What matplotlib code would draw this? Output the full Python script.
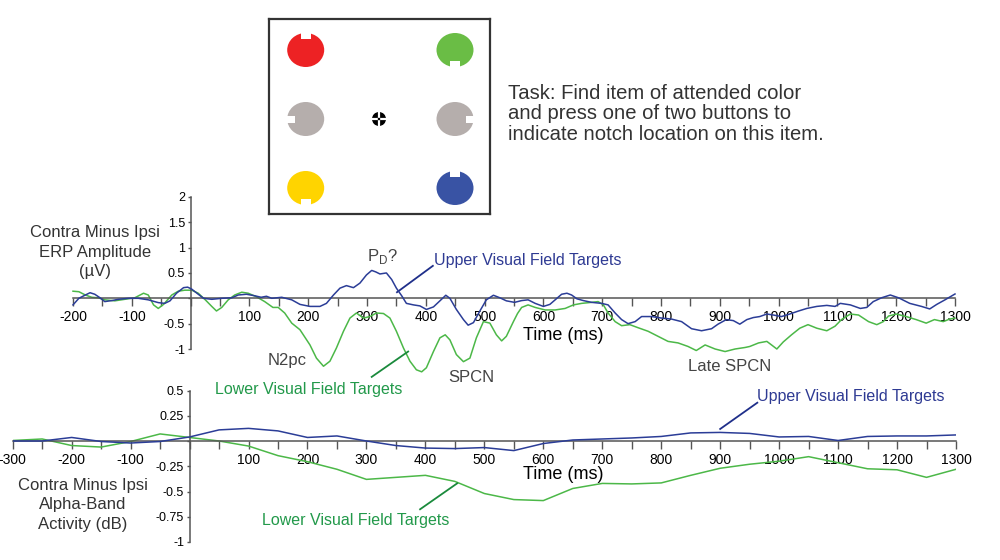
import matplotlib
matplotlib.use("Agg")
import matplotlib.pyplot as plt
from matplotlib.patches import Ellipse, Rectangle, Circle

plt.rcParams["font.family"] = ["Liberation Sans", "DejaVu Sans"]

# ---- top panel: contra minus ipsi ERP (uV) ----
erp_upper_t = [-200, -190, -179, -171, -163, -154, -146, -134, -123, -106, -89, -72, -55, -44, -35,
               -24, -12, -5, 2, 13, 22, 36, 53, 70, 81, 95, 109, 120, 129, 138, 155, 172, 186,
               203, 220, 231, 243, 254, 265, 277, 288, 299, 308, 315, 322, 333, 342, 350, 359,
               367, 379, 390, 401, 413, 424, 434, 441, 452, 464, 472, 481, 492, 503, 515, 526,
               537, 551, 563, 574, 586, 600, 611, 623, 631, 640, 648, 657, 668, 682, 699, 710,
               722, 733, 744, 756, 767, 784, 801, 818, 835, 852, 869, 886, 897, 911, 923, 934,
               946, 957, 968, 980, 991, 1005, 1019, 1034, 1048, 1065, 1082, 1096, 1105, 1122,
               1139, 1150, 1161, 1175, 1190, 1204, 1223, 1243, 1257, 1269, 1283, 1300]
erp_upper_v = [-0.13, 0.0, 0.065, 0.11, 0.08, 0.01, -0.065, -0.045, -0.02, 0.0, 0.0, -0.03, -0.085,
               -0.1, -0.05, 0.1, 0.21, 0.22, 0.18, 0.08, 0.0, -0.02, 0.0, 0.01, 0.065, 0.08, 0.05,
               0.02, 0.04, 0.0, 0.02, -0.03, -0.12, -0.16, -0.16, -0.1, 0.065, 0.2, 0.25, 0.21,
               0.3, 0.46, 0.55, 0.52, 0.48, 0.5, 0.37, 0.2, 0.05, -0.1, -0.13, -0.15, -0.22,
               -0.17, -0.05, 0.06, 0.0, -0.22, -0.42, -0.53, -0.48, -0.25, -0.03, 0.06, 0.01,
               -0.05, -0.08, -0.045, -0.03, -0.1, -0.16, -0.12, 0.0, 0.08, 0.1, 0.065, -0.01,
               -0.045, -0.08, -0.1, -0.13, -0.29, -0.42, -0.5, -0.46, -0.36, -0.36, -0.39, -0.41,
               -0.46, -0.6, -0.64, -0.6, -0.51, -0.42, -0.44, -0.51, -0.42, -0.38, -0.36, -0.31,
               -0.33, -0.36, -0.31, -0.25, -0.2, -0.16, -0.14, -0.16, -0.1, -0.13, -0.2, -0.18,
               -0.065, 0.01, 0.065, 0.01, -0.1, -0.16, -0.21, -0.12, -0.03, 0.085]

erp_lower_t = [-200, -190, -179, -168, -157, -146, -129, -112, -95, -80, -72, -63, -55, -46, -32,
               -21, -10, 2, 13, 25, 36, 44, 53, 64, 75, 87, 98, 112, 126, 140, 149, 160, 172,
               186, 203, 214, 226, 237, 248, 260, 271, 282, 294, 305, 316, 328, 339, 350, 362,
               373, 384, 393, 401, 413, 424, 433, 441, 452, 464, 475, 486, 498, 509, 520, 529,
               537, 549, 556, 563, 574, 586, 603, 620, 637, 651, 665, 682, 693, 702, 710, 722,
               733, 747, 761, 778, 795, 812, 829, 846, 860, 875, 892, 909, 926, 943, 951, 966,
               980, 988, 997, 1008, 1022, 1036, 1050, 1065, 1082, 1096, 1107, 1122, 1136, 1153,
               1167, 1178, 1187, 1200, 1217, 1234, 1251, 1265, 1280, 1291, 1300]
erp_lower_v = [0.14, 0.13, 0.065, 0.02, 0.01, -0.03, -0.05, -0.02, 0.01, 0.1, 0.065, -0.13, -0.2,
               -0.12, 0.065, 0.14, 0.16, 0.16, 0.1, -0.03, -0.16, -0.25, -0.18, -0.03, 0.065,
               0.12, 0.1, 0.03, -0.065, -0.18, -0.18, -0.29, -0.49, -0.62, -0.92, -1.18, -1.34,
               -1.24, -0.98, -0.65, -0.39, -0.29, -0.39, -0.36, -0.29, -0.3, -0.39, -0.65, -0.98,
               -1.24, -1.41, -1.45, -1.37, -1.05, -0.78, -0.72, -0.82, -1.11, -1.25, -1.18, -0.78,
               -0.46, -0.49, -0.72, -0.84, -0.75, -0.46, -0.3, -0.18, -0.13, -0.18, -0.23, -0.23,
               -0.2, -0.13, -0.1, -0.08, -0.065, -0.13, -0.29, -0.46, -0.54, -0.52, -0.58, -0.65,
               -0.75, -0.85, -0.88, -0.95, -1.03, -0.92, -1.0, -1.05, -1.0, -0.97, -0.95, -0.88,
               -0.85, -0.92, -1.0, -0.86, -0.72, -0.59, -0.52, -0.59, -0.64, -0.55, -0.42, -0.31,
               -0.33, -0.46, -0.52, -0.46, -0.35, -0.31, -0.36, -0.42, -0.49, -0.42, -0.46, -0.41,
               -0.39]

# ---- bottom panel: contra minus ipsi alpha-band activity (dB), every 50 ms ----
alpha_t = list(range(-300, 1301, 50))
alpha_upper = [0.0, 0.0, 0.035, -0.005, -0.02, -0.005, 0.04, 0.11, 0.125, 0.1, 0.035, 0.05, 0.0,
               -0.045, -0.07, -0.075, -0.065, -0.095, -0.025, 0.01, 0.02, 0.03, 0.045, 0.08,
               0.085, 0.075, 0.04, 0.045, 0.005, 0.045, 0.05, 0.05, 0.06]
alpha_lower = [0.005, 0.02, -0.045, -0.06, -0.005, 0.07, 0.035, 0.0, -0.05, -0.145, -0.205, -0.28,
               -0.38, -0.36, -0.34, -0.4, -0.52, -0.58, -0.59, -0.47, -0.42, -0.425, -0.415,
               -0.34, -0.27, -0.23, -0.2, -0.155, -0.215, -0.275, -0.285, -0.36, -0.28]

# ---- search display ----
item_colors = ["#ed2224", "#6abd45", "#b5aeac", "#b5aeac", "#ffd400", "#3953a4"]
notch_sides = ["top", "bottom", "left", "right", "bottom", "top"]

task_text = ("Task: Find item of attended color\n"
             "and press one of two buttons to\n"
             "indicate notch location on this item.")

BLUE = "#2b3d97"
GREEN = "#4cb848"
BLUE_TXT = "#2e3a93"
GREEN_TXT = "#22994a"
GRAY_TXT = "#444444"
AXIS = "#555555"


def fx(x):
    return x / 1000


def fy(y):
    return 1 - y / 560


def style_axes(ax, xmin, xmax, ymin, ymax, yticks):
    for s in ["top", "right"]:
        ax.spines[s].set_visible(False)
    ax.spines["left"].set_position(("data", 0))
    ax.spines["bottom"].set_position(("data", 0))
    ax.spines["left"].set_bounds(ymin, ymax)
    ax.spines["bottom"].set_bounds(xmin, xmax)
    for s in ["left", "bottom"]:
        ax.spines[s].set_color(AXIS)
        ax.spines[s].set_linewidth(1.1)
    xt = list(range(xmin, xmax + 1, 50))
    ax.set_xticks(xt)
    ax.set_xticklabels(["" if (t % 100 or t == 0) else str(t) for t in xt])
    ax.set_yticks(yticks)
    ax.set_yticklabels(["" if v == 0 else ("%g" % v) for v in yticks])
    ax.tick_params(axis="x", direction="out", length=6, width=1, color=AXIS,
                   labelsize=10, pad=2.5, labelcolor="black")
    ax.tick_params(axis="y", direction="out", length=2.5, width=1, color=AXIS,
                   labelsize=9, pad=1.5, labelcolor="black")
    ax.patch.set_alpha(0)


fig = plt.figure(figsize=(10, 5.6), dpi=100)
fig.patch.set_facecolor("white")

# top axes: -200..1300 ms at px 73..955, 0 uV at y 298.3, 50.7 px per uV
top_ylim = (-1.6, 2.1)
y_top = 298.3 - top_ylim[1] * 50.7
y_bot = 298.3 - top_ylim[0] * 50.7
ax1 = fig.add_axes([0.073, fy(y_bot), 0.882, (y_bot - y_top) / 560])
ax1.set_xlim(-200, 1300)
ax1.set_ylim(*top_ylim)
style_axes(ax1, -200, 1300, -1, 2, [-1, -0.5, 0, 0.5, 1, 1.5, 2])
ax1.plot(erp_upper_t, erp_upper_v, color=BLUE, lw=1.1, zorder=3, clip_on=False)
ax1.plot(erp_lower_t, erp_lower_v, color=GREEN, lw=1.1, zorder=2, clip_on=False)

ax1.text(327, 0.83, r"P$_\mathregular{D}$?", color=GRAY_TXT, fontsize=12, ha="center", va="center")
ax1.text(414, 0.755, "Upper Visual Field Targets", color=BLUE_TXT, fontsize=11.5, va="center")
ax1.plot([412, 351], [0.64, 0.12], color="#1f2f8a", lw=1.3, clip_on=False)
ax1.text(165, -1.22, "N2pc", color=GRAY_TXT, fontsize=12, ha="center", va="center")
ax1.text(41, -1.79, "Lower Visual Field Targets", color=GREEN_TXT, fontsize=11.5, va="center")
ax1.plot([308, 370], [-1.55, -1.05], color="#1a8a3c", lw=1.3, clip_on=False)
ax1.text(478, -1.57, "SPCN", color=GRAY_TXT, fontsize=12, ha="center", va="center")
ax1.text(916, -1.34, "Late SPCN", color=GRAY_TXT, fontsize=12, ha="center", va="center")
ax1.text(633, -0.74, "Time (ms)", color="black", fontsize=13, ha="center", va="center")

# bottom axes: -300..1300 ms at px 12.7..956, 0 dB at y 441, 101 px per dB
bot_ylim = (-1.03, 0.56)
y_top2 = 441 - bot_ylim[1] * 101
y_bot2 = 441 - bot_ylim[0] * 101
ax2 = fig.add_axes([0.0127, fy(y_bot2), 0.9433, (y_bot2 - y_top2) / 560])
ax2.set_xlim(-300, 1300)
ax2.set_ylim(*bot_ylim)
style_axes(ax2, -300, 1300, -1, 0.5, [-1, -0.75, -0.5, -0.25, 0, 0.25, 0.5])
ax2.plot(alpha_t, alpha_upper, color=BLUE, lw=1.1, zorder=3)
ax2.plot(alpha_t, alpha_lower, color=GREEN, lw=1.1, zorder=2)

ax2.text(962, 0.436, "Upper Visual Field Targets", color=BLUE_TXT, fontsize=11.5, va="center")
ax2.plot([963, 900], [0.379, 0.119], color="#1f2f8a", lw=1.3, clip_on=False)
ax2.text(123, -0.79, "Lower Visual Field Targets", color=GREEN_TXT, fontsize=11.5, va="center")
ax2.plot([391, 454], [-0.676, -0.419], color="#1a8a3c", lw=1.3, clip_on=False)
ax2.text(633, -0.327, "Time (ms)", color="black", fontsize=13, ha="center", va="center")

# y axis titles
fig.text(fx(95), fy(252), "Contra Minus Ipsi\nERP Amplitude\n(\u00b5V)", color="#333333",
         fontsize=12, ha="center", va="center", linespacing=1.36)
fig.text(fx(83), fy(505), "Contra Minus Ipsi\nAlpha-Band\nActivity (dB)", color="#333333",
         fontsize=12, ha="center", va="center", linespacing=1.36)

# search display inset (local pixel coordinates)
ins = fig.add_axes([fx(269), fy(214), 221 / 1000, 195 / 560])
ins.set_xlim(0, 221)
ins.set_ylim(195, 0)
ins.set_xticks([])
ins.set_yticks([])
for s in ins.spines.values():
    s.set_color("#333333")
    s.set_linewidth(1.6)
cols = [36.7, 186]
rows = [31, 100, 169]
rw, rd = 10, 6
for i, (c, side) in enumerate(zip(item_colors, notch_sides)):
    cx = cols[i % 2]
    cy = rows[i // 2]
    ins.add_patch(Ellipse((cx, cy), 37, 34, color=c, lw=0))
    if side == "top":
        r = Rectangle((cx - rw / 2, cy - 17.5), rw, rd + 0.5, color="white", lw=0)
    elif side == "bottom":
        r = Rectangle((cx - rw / 2, cy + 17.5 - rd - 0.5), rw, rd + 0.5, color="white", lw=0)
    elif side == "left":
        r = Rectangle((cx - 19, cy - rw / 2 + 1.5), rd + 2, rw - 3, color="white", lw=0)
    else:
        r = Rectangle((cx + 19 - rd - 2, cy - rw / 2 + 1.5), rd + 2, rw - 3, color="white", lw=0)
    ins.add_patch(r)
# fixation
ins.add_patch(Circle((110, 100), 7, color="black", lw=0))
ins.plot([102, 118], [100, 100], color="white", lw=1.6)
ins.plot([110, 110], [92, 108], color="white", lw=1.6)
ins.add_patch(Circle((110, 100), 1.3, color="black", lw=0, zorder=5))

fig.text(fx(508), fy(114), task_text, color="#333333", fontsize=14.6, ha="left", va="center",
         linespacing=1.12)

fig.savefig("out.png", dpi=100, facecolor="white")
